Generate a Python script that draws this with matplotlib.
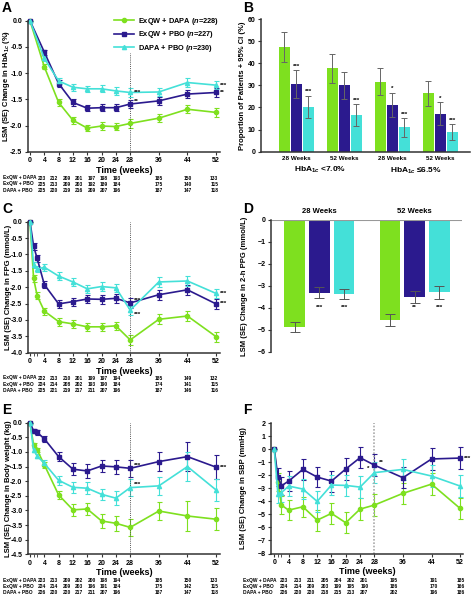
import matplotlib
matplotlib.use("Agg")
import matplotlib.pyplot as plt
from matplotlib.transforms import blended_transform_factory

plt.rcParams['font.family'] = ['Liberation Sans', 'DejaVu Sans']
plt.rcParams['font.weight'] = 'bold'
plt.rcParams['axes.labelweight'] = 'bold'
plt.rcParams['mathtext.fontset'] = 'custom'
plt.rcParams['mathtext.rm'] = 'Liberation Sans:bold'
plt.rcParams['mathtext.it'] = 'Liberation Sans:italic:bold'
plt.rcParams['mathtext.bf'] = 'Liberation Sans:bold'

VERDE = '#7ee01f'
AZUL = '#2b1a8e'
CIAN = '#44e0d8'
GRIS = '#333333'

# ---------------- datos ----------------
grupos = ['ExQW + DAPA', 'ExQW + PBO', 'DAPA + PBO']
leyenda = [r'ExQW + DAPA ($\mathit{n}$=228)', r'ExQW + PBO ($\mathit{n}$=227)',
           r'DAPA + PBO ($\mathit{n}$=230)']

# A: HbA1c
sem_a = [0, 4, 8, 12, 16, 20, 24, 28, 36, 44, 52]
hba_dapa = [0, -0.88, -1.56, -1.90, -2.05, -2.01, -2.02, -1.96, -1.86, -1.69, -1.75]
hba_pbo = [0, -0.60, -1.20, -1.56, -1.67, -1.66, -1.66, -1.59, -1.53, -1.40, -1.37]
hba_dp = [0, -0.72, -1.15, -1.27, -1.30, -1.30, -1.34, -1.37, -1.36, -1.18, -1.23]
hba_err_dapa = [0, 0.05, 0.06, 0.07, 0.06, 0.07, 0.07, 0.08, 0.08, 0.08, 0.08]
hba_err_pbo = [0, 0.05, 0.06, 0.07, 0.06, 0.07, 0.07, 0.08, 0.08, 0.08, 0.08]
hba_err_dp = [0, 0.05, 0.06, 0.07, 0.06, 0.07, 0.07, 0.08, 0.08, 0.08, 0.08]
tabla_a = [[223, 212, 209, 201, 197, 198, 193, 185, 150, 133],
           [225, 213, 209, 203, 192, 189, 184, 175, 140, 115],
           [225, 220, 219, 216, 209, 207, 196, 187, 147, 118]]

# B: proporcion de pacientes
etiquetas_b = ['28 Weeks', '52 Weeks', '28 Weeks', '52 Weeks']
prop_dapa = [47.3, 37.7, 31.7, 26.4]
prop_pbo = [30.6, 30.0, 21.1, 17.2]
prop_dp = [20.1, 16.6, 11.0, 8.7]
ic_bajo_dapa = [40.6, 31.2, 25.6, 20.7]
ic_alto_dapa = [54.0, 44.0, 37.7, 32.1]
ic_bajo_pbo = [24.1, 24.0, 15.8, 12.1]
ic_alto_pbo = [36.8, 36.0, 26.7, 22.3]
ic_bajo_dp = [15.2, 11.8, 6.8, 5.3]
ic_alto_dp = [25.3, 21.4, 15.1, 12.4]
sig_b_pbo = ['***', '', '*', '*']
sig_b_dp = ['***', '***', '***', '***']

# C: FPG
sem_c = [0, 1, 2, 4, 8, 12, 16, 20, 24, 28, 36, 44, 52]
fpg_dapa = [0, -1.73, -2.26, -2.73, -3.05, -3.12, -3.21, -3.21, -3.18, -3.61, -2.98, -2.88, -3.51]
fpg_pbo = [0, -0.75, -1.12, -1.92, -2.51, -2.44, -2.36, -2.37, -2.34, -2.48, -2.23, -2.08, -2.51]
fpg_dp = [0, -1.32, -1.45, -1.39, -1.66, -1.84, -2.05, -1.98, -2.02, -2.70, -1.84, -1.81, -2.19]
fpg_err = [0, 0.1, 0.1, 0.11, 0.12, 0.12, 0.13, 0.13, 0.13, 0.14, 0.15, 0.15, 0.15]
tabla_c = [[222, 213, 210, 201, 199, 197, 194, 185, 149, 132],
           [224, 214, 208, 202, 193, 190, 184, 174, 141, 115],
           [225, 221, 219, 217, 211, 207, 196, 187, 146, 116]]

# D: PPG 2 h
etiquetas_d = ['28 Weeks', '52 Weeks']
ppg_dapa = [-4.86, -4.56]
ppg_pbo = [-3.31, -3.52]
ppg_dp = [-3.37, -3.30]
ppg_err_dapa = [0.23, 0.26]
ppg_err_pbo = [0.25, 0.28]
ppg_err_dp = [0.23, 0.28]
sig_d_pbo = ['***', '**']
sig_d_dp = ['***', '***']

# E: peso corporal
peso_dapa = [0, -0.76, -0.93, -1.44, -2.47, -2.98, -2.95, -3.36, -3.44, -3.58, -3.02, -3.19, -3.30]
peso_pbo = [0, -0.28, -0.33, -0.55, -1.16, -1.59, -1.65, -1.48, -1.51, -1.56, -1.33, -1.16, -1.52]
peso_dp = [0, -0.93, -1.14, -1.39, -1.97, -2.21, -2.24, -2.45, -2.58, -2.22, -2.16, -1.50, -2.30]
peso_err_dapa = [0, 0.08, 0.08, 0.1, 0.15, 0.2, 0.22, 0.23, 0.25, 0.28, 0.3, 0.5, 0.38]
peso_err_pbo = [0, 0.07, 0.08, 0.1, 0.15, 0.2, 0.23, 0.2, 0.23, 0.28, 0.32, 0.5, 0.4]
peso_err_dp = [0, 0.08, 0.08, 0.1, 0.15, 0.18, 0.2, 0.2, 0.23, 0.28, 0.3, 0.5, 0.38]
tabla_e = [[223, 213, 209, 202, 200, 198, 194, 185, 150, 133],
           [224, 214, 209, 203, 196, 191, 184, 175, 142, 115],
           [226, 220, 220, 217, 211, 207, 196, 187, 147, 118]]

# F: PAS
pas_dapa = [0, -2.5, -4.28, -4.67, -4.41, -5.44, -4.92, -5.64, -4.59, -4.28, -3.38, -2.67, -4.54]
pas_pbo = [0, -2.1, -2.8, -2.44, -1.54, -2.13, -2.44, -1.51, -0.64, -1.21, -2.18, -0.74, -0.67]
pas_dp = [0, -3.4, -3.33, -2.82, -3.05, -4.0, -2.74, -2.77, -2.9, -1.79, -1.54, -2.05, -2.82]
pas_err = [0, 0.7, 0.7, 0.75, 0.78, 0.8, 0.8, 0.82, 0.82, 0.82, 0.82, 0.85, 0.82]
tabla_f = [[223, 213, 211, 205, 204, 202, 201, 195, 191, 185],
           [224, 214, 209, 203, 199, 195, 190, 186, 170, 166],
           [226, 220, 220, 218, 215, 213, 207, 202, 196, 186]]

# ---------------- figura ----------------
W, H = 471, 595
fig = plt.figure(figsize=(W / 100, H / 100), dpi=100)


def caja(l, t, r, b):
    return fig.add_axes([l / W, 1 - b / H, (r - l) / W, (b - t) / H])


def estilo(ax):
    for s in ['top', 'right']:
        ax.spines[s].set_visible(False)
    for s in ['left', 'bottom']:
        ax.spines[s].set_linewidth(1.1)
        ax.spines[s].set_color(GRIS)
    ax.tick_params(labelsize=5, width=0.8, length=2.5, color=GRIS, pad=1.5)


def lineas(ax, x, ys, errs):
    hs = []
    for y, e, c, m in zip(ys, errs, [VERDE, AZUL, CIAN], ['o', 's', '^']):
        h = ax.errorbar(x, y, yerr=e, color=c, marker=m, ms=3, lw=1.2,
                        elinewidth=0.8, capsize=1.8, capthick=0.8, clip_on=False)
        hs.append(h.lines[0])
    return hs


def tabla(ax, filas, xs, ys, xlab):
    tr = blended_transform_factory(ax.transData, fig.transFigure)
    for fila, nombre, yp in zip(filas, grupos, ys):
        fig.text(xlab / W, 1 - yp / H, nombre, fontsize=3.5, va='center')
        for xv, n in zip(xs, fila):
            ax.text(xv, 1 - yp / H, str(n), transform=tr, fontsize=3.5,
                    ha='center', va='center', clip_on=False)


def estrella(ax, s, x, y, dx=3, dy=0):
    ax.annotate(s, (x, y), xytext=(dx, dy), textcoords='offset points',
                fontsize=4.5, va='center', ha='left')


col_tabla = [3.3, 6.8, 10.3, 13.8, 17.2, 20.7, 24.2, 36, 44, 51.5]
ticks_tiempo = [0, 4, 8, 12, 16, 20, 24, 28, 36, 44, 52]

# ---- A ----
axA = caja(28, 20.7, 220, 151.7)
estilo(axA)
hA = lineas(axA, sem_a, [hba_dapa, hba_pbo, hba_dp], [hba_err_dapa, hba_err_pbo, hba_err_dp])
axA.vlines(28, -2.5, -0.62, colors='#555555', linestyles=(0, (1, 1.2)), lw=0.7)
axA.set_xlim(-0.56, 53.1)
axA.set_ylim(-2.5, 0)
axA.set_xticks(ticks_tiempo)
axA.set_yticks([0, -0.5, -1.0, -1.5, -2.0, -2.5])
axA.set_yticklabels(['0.0', '-0.5', '-1.0', '-1.5', '-2.0', '-2.5'])
axA.set_xlabel('Time (weeks)', fontsize=6.5, labelpad=1)
axA.set_ylabel('LSM (SE) Change in HbA$_{1c}$ (%)', fontsize=5.5)
axA.yaxis.set_label_coords(-0.085, 0.5)
estrella(axA, '***', 28, hba_dp[7])
estrella(axA, '**', 28, hba_pbo[7], dy=2)
estrella(axA, '***', 52, hba_dp[-1])
estrella(axA, '**', 52, hba_pbo[-1])
axA.legend(hA, leyenda, loc='upper left', bbox_to_anchor=(110 / W, 1 - 12 / H),
           bbox_transform=fig.transFigure, frameon=False, fontsize=5.3,
           handlelength=2.8, labelspacing=0.35, borderpad=0, handletextpad=0.5)
tabla(axA, tabla_a, col_tabla, [178, 184, 190], 3)

# ---- B ----
axB = caja(261, 19, 470, 151.7)
estilo(axB)
xb = list(range(len(etiquetas_b)))
ancho = 0.23
for k, (v, lo, hi, c) in enumerate([(prop_dapa, ic_bajo_dapa, ic_alto_dapa, VERDE),
                                     (prop_pbo, ic_bajo_pbo, ic_alto_pbo, AZUL),
                                     (prop_dp, ic_bajo_dp, ic_alto_dp, CIAN)]):
    pos = [p + (k - 1) * 0.25 for p in xb]
    err = [[a - b for a, b in zip(v, lo)], [b - a for a, b in zip(v, hi)]]
    axB.bar(pos, v, ancho, color=c)
    axB.errorbar(pos, v, yerr=err, fmt='none', ecolor='#666666', elinewidth=0.7,
                 capsize=2.2, capthick=0.7)
    sig = ['', '', '', ''] if k == 0 else (sig_b_pbo if k == 1 else sig_b_dp)
    for p, h, s in zip(pos, hi, sig):
        if s:
            axB.text(p, h + 0.6, s, ha='center', va='bottom', fontsize=4.5)
axB.set_xlim(-0.73, 3.62)
axB.set_ylim(0, 60)
axB.set_yticks(range(0, 61, 10))
axB.set_xticks(xb)
axB.set_xticklabels(etiquetas_b, fontsize=4.5)
axB.tick_params(axis='x', length=0, pad=3)
axB.set_ylabel('Proportion of Patients + 95% CI (%)', fontsize=5.5)
axB.yaxis.set_label_coords(-0.072, 0.5)
trB = blended_transform_factory(axB.transData, fig.transFigure)
axB.text(0.5, 1 - 170 / H, 'HbA$_{1c}$ <7.0%', transform=trB, ha='center',
         va='center', fontsize=6)
axB.text(2.5, 1 - 170 / H, 'HbA$_{1c}$ \u22646.5%', transform=trB, ha='center',
         va='center', fontsize=6)

# ---- C ----
axC = caja(28, 221.7, 220, 352.7)
estilo(axC)
lineas(axC, sem_c, [fpg_dapa, fpg_pbo, fpg_dp], [fpg_err, fpg_err, fpg_err])
axC.vlines(28, -4, 0, colors='#555555', linestyles=(0, (1, 1.2)), lw=0.7)
axC.set_xlim(-0.56, 53.1)
axC.set_ylim(-4, 0)
axC.set_xticks(ticks_tiempo)
axC.set_xticks([1, 2], minor=True)
axC.tick_params(which='minor', length=2, width=0.6, color=GRIS)
yc = [0, -0.5, -1.0, -1.5, -2.0, -2.5, -3.0, -3.5, -4.0]
axC.set_yticks(yc)
axC.set_yticklabels(['%.1f' % v for v in yc])
axC.set_xlabel('Time (weeks)', fontsize=6.5, labelpad=1)
axC.set_ylabel('LSM (SE) Change in FPG (mmol/L)', fontsize=5.5)
axC.yaxis.set_label_coords(-0.085, 0.5)
estrella(axC, '***', 28, fpg_pbo[9], dy=2)
estrella(axC, '***', 28, fpg_dp[9], dy=-3)
estrella(axC, '***', 52, fpg_dp[-1])
estrella(axC, '***', 52, fpg_pbo[-1])
tabla(axC, tabla_c, col_tabla, [378, 384.5, 391], 3)

# ---- D ----
axD = caja(271, 220, 462, 351.7)
for s in ['top', 'right', 'bottom']:
    axD.spines[s].set_visible(False)
axD.spines['left'].set_linewidth(1.1)
axD.spines['left'].set_color(GRIS)
axD.tick_params(labelsize=5, width=0.8, length=2.5, color=GRIS, pad=1.5)
xd = [0, 3.85]
for k, (v, e, c) in enumerate([(ppg_dapa, ppg_err_dapa, VERDE), (ppg_pbo, ppg_err_pbo, AZUL),
                                (ppg_dp, ppg_err_dp, CIAN)]):
    pos = [p + (k - 1) for p in xd]
    axD.bar(pos, v, 0.83, color=c)
    axD.errorbar(pos, v, yerr=e, fmt='none', ecolor='#555555', elinewidth=0.7,
                 capsize=3.5, capthick=0.7)
    if k > 0:
        for p, s in zip(pos, sig_d_pbo if k == 1 else sig_d_dp):
            axD.text(p, -4.0, s, ha='center', va='center', fontsize=4.5)
axD.axhline(0, color='#999999', lw=1.5)
axD.set_xlim(-1.96, 5.77)
axD.set_ylim(-6, 0)
axD.set_xticks([])
axD.set_yticks(range(0, -7, -1))
for p, t in zip(xd, etiquetas_d):
    axD.text(p, 0.25, t, ha='center', va='bottom', fontsize=5.5)
axD.set_ylabel('LSM (SE) Change in 2-h PPG (mmol/L)', fontsize=5.5)
axD.yaxis.set_label_coords(-0.12, 0.5)

# ---- E ----
axE = caja(28, 422.7, 220, 554.3)
estilo(axE)
lineas(axE, sem_c, [peso_dapa, peso_pbo, peso_dp], [peso_err_dapa, peso_err_pbo, peso_err_dp])
axE.vlines(28, -4.5, 0, colors='#555555', linestyles=(0, (1, 1.2)), lw=0.7)
axE.set_xlim(-0.56, 53.1)
axE.set_ylim(-4.5, 0)
axE.set_xticks(ticks_tiempo)
axE.set_xticks([1, 2], minor=True)
axE.tick_params(which='minor', length=2, width=0.6, color=GRIS)
ye = [0, -0.5, -1.0, -1.5, -2.0, -2.5, -3.0, -3.5, -4.0, -4.5]
axE.set_yticks(ye)
axE.set_yticklabels(['%.1f' % v for v in ye])
axE.set_xlabel('Time (weeks)', fontsize=6.5, labelpad=1)
axE.set_ylabel('LSM (SE) Change in Body weight (kg)', fontsize=5.5)
axE.yaxis.set_label_coords(-0.085, 0.5)
estrella(axE, '***', 28, peso_pbo[9], dy=2)
estrella(axE, '***', 28, peso_dp[9], dy=2)
estrella(axE, '***', 52, peso_pbo[-1])
tabla(axE, tabla_e, col_tabla, [580.7, 586.7, 592.7], 3)

# ---- F ----
axF = caja(271, 423.3, 463, 553.5)
estilo(axF)
lineas(axF, sem_c, [pas_dapa, pas_pbo, pas_dp], [pas_err, pas_err, pas_err])
axF.vlines(28, -8, 2, colors='#aaaaaa', linestyles=(0, (1, 1)), lw=1.2)
axF.set_xlim(-0.92, 52.8)
axF.set_ylim(-8, 2)
axF.set_xticks(ticks_tiempo)
axF.set_xticks([1, 2], minor=True)
axF.tick_params(which='minor', length=2, width=0.6, color=GRIS)
axF.set_yticks(range(2, -9, -1))
axF.set_xlabel('Time (weeks)', fontsize=6.5, labelpad=1)
axF.set_ylabel('LSM (SE) Change in SBP (mmHg)', fontsize=5.5)
axF.yaxis.set_label_coords(-0.127, 0.5)
estrella(axF, '**', 28, pas_pbo[9], dy=2)
estrella(axF, '*', 28, pas_dp[9], dx=-5, dy=3)
estrella(axF, '***', 52, pas_pbo[-1])
col_f = [2.6, 6.6, 10.3, 14.1, 17.7, 21.5, 25.2, 33.5, 44.5, 52.1]
tabla(axF, tabla_f, col_f, [580.7, 586.7, 592.7], 243)

# letras de panel
for letra, xp, yp in [('A', 2, 1), ('B', 243, 1), ('C', 2, 202), ('D', 243, 202),
                      ('E', 2, 403), ('F', 243, 403)]:
    fig.text(xp / W, 1 - yp / H, letra, fontsize=10, fontweight='bold', va='top')

fig.savefig('out.png', dpi=100)
